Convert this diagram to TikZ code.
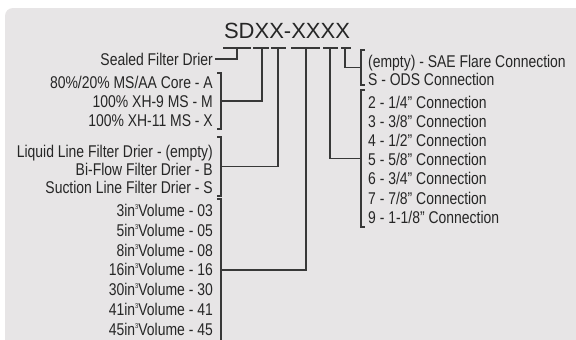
\documentclass[tikz,border=0pt]{standalone}
\usepackage{fontspec}
\setmainfont{Liberation Sans}[FakeStretch=0.82]
\newfontfamily\codefont{Liberation Sans}
\newcommand{\Unit}{1pt}
\newcommand{\Rule}{1.2pt}
\newcommand{\Bar}{48}
\newcommand{\LeftX}{215}
\newcommand{\RightX}{366}
\newcommand{\Cube}{\raisebox{7pt}{\fontsize{7}{7}\selectfont 3}}
\definecolor{panel}{HTML}{E7E5E6}
\definecolor{ink}{HTML}{262626}
\definecolor{wire}{HTML}{383838}

\begin{document}
\begin{tikzpicture}[x=\Unit,y=-\Unit, line join=miter,
    wire/.style={draw=wire, line width=\Rule},
    entry/.style={font=\fontsize{17}{17}\selectfont, text=ink, inner ysep=0pt,
      inner xsep=2pt, text height=12.2pt, text depth=0pt},
    lentry/.style={entry, anchor=base east},
    rentry/.style={entry, anchor=base west}]

  % ---- sheet --------------------------------------------------------------
  \fill[white] (0,0) rectangle (576,340);
  \useasboundingbox (0,0) rectangle (576,340);
  \fill[panel,rounded corners=8] (5,8) rectangle (600,360);

  % ---- the model code -----------------------------------------------------
  \node[font=\codefont\fontsize{22}{22}\selectfont, text=ink, inner sep=0pt,
    anchor=base] (code) at (287,38) {SDXX-XXXX};
  % one bar under each field, a leg hangs from its middle
  \foreach \name/\a/\b/\leg in {sd/223/251/237, core/253/269/262,
      line/271/286/278, vol/291/320/306, size/323/338/330, type/341/351/345} {
    \draw[wire] (\a,\Bar) -- (\b,\Bar);
    \coordinate (\name) at (\leg,\Bar);
  }

  % ---- left side ----------------------------------------------------------
  \node[lentry] (sealed) at (\LeftX,65) {Sealed Filter Drier};

  \node[lentry] (coreA) at (\LeftX,88) {80\%/20\% MS/AA Core - A};
  \node[lentry] (coreM) at (\LeftX,107) {100\% XH-9 MS - M};
  \node[lentry] (coreX) at (\LeftX,126) {100\% XH-11 MS - X};

  \node[lentry] (liquid) at (\LeftX,157) {Liquid Line Filter Drier - (empty)};
  \node[lentry] (biflow) at (\LeftX,175) {Bi-Flow Filter Drier - B};
  \node[lentry] (suction) at (\LeftX,193) {Suction Line Filter Drier - S};

  \foreach \n/\v/\y in {3/03/216.5, 5/05/236.3, 8/08/256.1, 16/16/275.9,
      30/30/295.7, 41/41/315.5, 45/45/335.3} {
    \node[lentry] (vol\v) at (\LeftX,\y) {\n in\Cube Volume - \v};
  }

  % brackets, ticks pointing back at the text
  \draw[wire] (217,73) -- (221,73) -- (221,129) -- (217,129);
  \draw[wire] (217,137) -- (221,137) -- (221,196) -- (217,196);
  \draw[wire] (217,199) -- (221,199) -- (221,345);
  \coordinate (coreEnd) at (221,101);
  \coordinate (lineEnd) at (221,166.5);
  \coordinate (volEnd) at (221,270);

  % ---- right side ---------------------------------------------------------
  \node[rentry] (flare) at (\RightX,67) {(empty) - SAE Flare Connection};
  \node[rentry] (ods) at (\RightX,85) {S - ODS Connection};

  \foreach \n/\a/\b/\y in {2/1/4/108, 3/3/8/127, 4/1/2/146, 5/5/8/165,
      6/3/4/184, 7/7/8/204, 9/1-1/8/223} {
    \node[rentry] (conn\n) at (\RightX,\y) {\n{} - \a/\b” Connection};
  }

  \draw[wire] (365,50) -- (361,50) -- (361,85) -- (365,85);
  \draw[wire] (365,90) -- (361,90) -- (361,227) -- (365,227);
  \coordinate (typeEnd) at (361,67.5);
  \coordinate (sizeEnd) at (361,158.5);

  % ---- connectors ---------------------------------------------------------
  \draw[wire] (sealed.east) -| (sd);
  \draw[wire] (coreEnd) -| (core);
  \draw[wire] (lineEnd) -| (line);
  \draw[wire] (volEnd) -| (vol);
  \draw[wire] (size) |- (sizeEnd);
  \draw[wire] (type) |- (typeEnd);

\end{tikzpicture}
\end{document}
